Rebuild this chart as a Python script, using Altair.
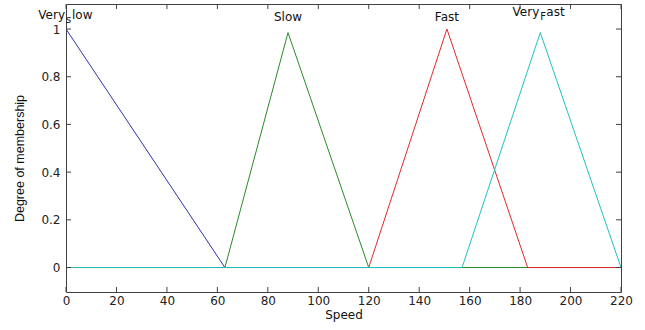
import altair as alt
import pandas as pd

# ---- data ----
x_ticks = [0, 20, 40, 60, 80, 100, 120, 140, 160, 180, 200, 220]
y_ticks = [0, 0.2, 0.4, 0.6, 0.8, 1.0]

mf_names = ["Very_slow", "Slow", "Fast", "Very_Fast"]
mf_x = [
    [0, 63, 220],
    [0, 63, 88, 120, 220],
    [0, 120, 151, 183, 220],
    [0, 157, 188, 220],
]
mf_y = [
    [1, 0, 0],
    [0, 0, 0.985, 0, 0],
    [0, 0, 1.0, 0, 0],
    [0, 0, 0.985, 0],
]
mf_colors = ["#3030b0", "#2a8a2a", "#dd2a2a", "#20c0c0"]

label_x = [0, 88, 151, 188]
label_y = [1.057, 1.05, 1.05, 1.072]
label_pre = ["Very", "Slow", "Fast", "Very"]
label_sub = ["s", "", "", "F"]
label_post = ["low", "", "", "ast"]

# ---- layout ----
W, H = 555, 288
FONT = "DejaVu Sans"
xs = alt.Scale(domain=[0, 220], nice=False, zero=False)
ys = alt.Scale(domain=[-0.1026, 1.105], nice=False, zero=False)

x_axis = alt.Axis(values=x_ticks, format="d", ticks=False, tickSize=0, domain=False,
                  grid=False, labelFont=FONT, labelFontSize=12, labelColor="#222",
                  labelPadding=3, labelOverlap=False, labelFlush=False,
                  title="Speed", titleFont=FONT, titleFontSize=12,
                  titleFontWeight="normal", titleColor="#111", titlePadding=3)
y_axis = alt.Axis(values=y_ticks, format="~g", ticks=False, tickSize=0, domain=False,
                  grid=False, labelFont=FONT, labelFontSize=12, labelColor="#222",
                  labelPadding=6, labelOverlap=False, labelFlush=False,
                  title="Degree of membership", titleFont="Liberation Sans",
                  titleFontSize=12.5, titleFontWeight="normal", titleColor="#111",
                  titleAngle=-90, titleX=-47, titleY=154, titleAlign="center",
                  titleBaseline="middle")

X = lambda f: alt.X(f, scale=xs, axis=x_axis)
Y = lambda f: alt.Y(f, scale=ys, axis=y_axis)

layers = []
for i, name in enumerate(mf_names):
    df = pd.DataFrame({"x": mf_x[i], "y": mf_y[i], "o": list(range(len(mf_x[i]))), "mf": name})
    layers.append(
        alt.Chart(df).mark_line(color=mf_colors[i], strokeWidth=1, clip=True).encode(
            x=X("x:Q"), y=Y("y:Q"), order="o:Q",
        )
    )

lab = pd.DataFrame({"x": label_x, "y": label_y, "pre": label_pre,
                    "sub": label_sub, "post": label_post})
simple = lab[lab["sub"] == ""]
comp = lab[lab["sub"] != ""]

def txt(df, field, **kw):
    return alt.Chart(df).mark_text(font=FONT, color="#111", baseline="middle", **kw).encode(
        x=X("x:Q"), y=Y("y:Q"), text=f"{field}:N",
    )

layers.append(txt(simple, "pre", fontSize=12, align="center"))
layers.append(txt(comp, "pre", fontSize=12, align="right", dx=-1))
layers.append(txt(comp, "sub", fontSize=10, align="left", dx=0, dy=5))
layers.append(txt(comp, "post", fontSize=12, align="left", dx=6))

# inward ticks on all four sides
xt = pd.DataFrame({"x": x_ticks})
yt = pd.DataFrame({"y": y_ticks})
TL = 5
tick_color = "#404040"
def xtick(y1, y2):
    return alt.Chart(xt).mark_rule(color=tick_color, strokeWidth=1).encode(
        x=X("x:Q"), y=alt.value(y1), y2=alt.value(y2))
def ytick(x1, x2):
    return alt.Chart(yt).mark_rule(color=tick_color, strokeWidth=1).encode(
        y=Y("y:Q"), x=alt.value(x1), x2=alt.value(x2))

layers += [xtick(H, H - TL), xtick(0, TL), ytick(0, TL), ytick(W, W - TL)]

chart = alt.layer(*layers).properties(
    width=W, height=H,
    autosize=alt.AutoSizeParams(type="none"),
    padding={"left": 66, "top": 4, "right": 24, "bottom": 38},
    background="white",
).configure_view(stroke="#404040", strokeWidth=1)

chart.save("out.html", embed_options={"renderer": "svg", "actions": False})
